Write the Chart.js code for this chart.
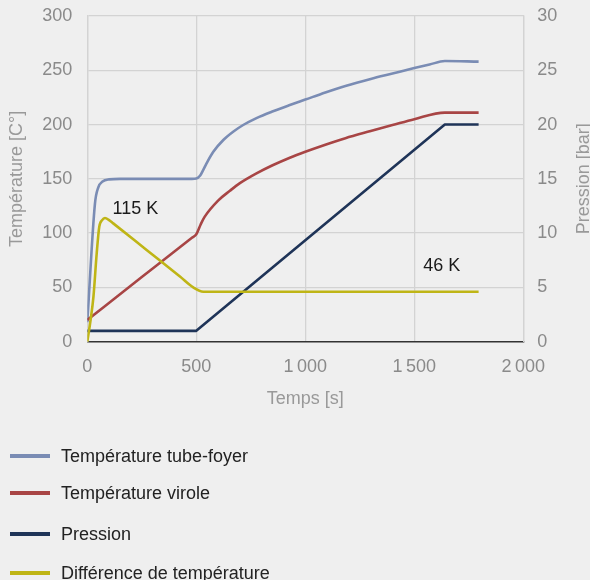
<!DOCTYPE html>
<html>
<head>
<meta charset="utf-8">
<script src="https://cdn.jsdelivr.net/npm/chart.js@4/dist/chart.umd.min.js"></script>
<style>
  html, body { margin:0; padding:0; background:#efefef; width:590px; height:580px; overflow:hidden; }
  #wrap { position:absolute; left:0; top:0; width:590px; height:420px; }
  #legend { position:absolute; left:0; top:0; width:590px; height:580px; pointer-events:none; }
  .item { position:absolute; left:0; height:24px; font:18px "Liberation Sans", Arial, sans-serif; color:#222; }
  .item .ln { position:absolute; left:10px; top:10px; width:40px; height:4px; }
  .item .tx { position:absolute; left:61px; top:0; line-height:24px; white-space:nowrap; }
</style>
</head>
<body>
<div id="wrap"><canvas id="c"></canvas></div>
<div id="legend"></div>
<script>
// ---- data ----
const seriesNames = ["Température tube-foyer", "Température virole", "Pression", "Différence de température"];
const seriesColors = ["#7a8cb4", "#a84545", "#1f3458", "#bfb516"];

const tubeTime = [0, 35, 50, 70, 100, 150, 300, 480, 500, 517, 532, 547, 578, 624, 669, 715, 776, 852, 929, 1000, 1092, 1184, 1300, 1400, 1500, 1570, 1640, 1795];
const tubeTemp = [18, 127, 142, 147.5, 149.5, 150, 150, 150, 150.3, 152.8, 158.3, 164.3, 175, 185.8, 193.4, 199.6, 206, 212.3, 218, 223, 229.5, 235.5, 242, 247, 252, 255.3, 258.5, 258];

const viroleTime = [0, 250, 480, 500, 520, 538, 600, 654, 700, 776, 850, 929, 1000, 1092, 1184, 1300, 1400, 1500, 1640, 1795];
const viroleTemp = [20, 59.5, 95.8, 99, 108, 115, 130, 139, 146, 155, 162.5, 169.5, 175, 181.5, 187.5, 194, 199.5, 205, 211, 211];

const pressTime = [0, 500, 1640, 1795];
const pressBar = [1, 1, 20, 20];

const diffTime = [0, 15, 28, 43, 55, 68, 81, 100, 119, 272, 425, 486, 532, 600, 1795];
const diffTemp = [0, 20, 41, 81, 106, 112, 114, 112, 109, 84.5, 60, 50, 46, 46, 46];

const xTicks = ["0", "500", "1\u2009000", "1\u2009500", "2\u2009000"];
const annotations = [
  { text: "115 K", x: 116, y: 122.5 },
  { text: "46 K", x: 1541, y: 70 }
];

const FONT = '"Liberation Sans", Arial, sans-serif';
Chart.defaults.font.family = FONT;
Chart.defaults.font.size = 18;

function pts(xs, ys) { return xs.map((x, i) => ({ x: x, y: ys[i] })); }

const datasets = [
  { label: seriesNames[0], data: pts(tubeTime, tubeTemp), yAxisID: 'y', cubicInterpolationMode: 'monotone' },
  { label: seriesNames[1], data: pts(viroleTime, viroleTemp), yAxisID: 'y', cubicInterpolationMode: 'monotone' },
  { label: seriesNames[2], data: pts(pressTime, pressBar), yAxisID: 'y1', tension: 0 },
  { label: seriesNames[3], data: pts(diffTime, diffTemp), yAxisID: 'y', cubicInterpolationMode: 'monotone' }
].map((d, i) => Object.assign(d, {
  borderColor: seriesColors[i], backgroundColor: seriesColors[i],
  borderWidth: 2.6, pointRadius: 0, fill: false,
  borderJoinStyle: 'round', order: [3, 2, 1, 0][i]
}));

const extras = {
  id: 'extras',
  afterDatasetsDraw(chart) {
    const ctx = chart.ctx, xs = chart.scales.x, ys = chart.scales.y;
    ctx.save();
    ctx.fillStyle = '#1a1a1a';
    ctx.font = '18px ' + FONT;
    ctx.textBaseline = 'middle';
    ctx.textAlign = 'left';
    annotations.forEach(a => ctx.fillText(a.text, xs.getPixelForValue(a.x), ys.getPixelForValue(a.y)));
    // right axis title, reading bottom-to-top
    ctx.fillStyle = '#999';
    ctx.translate(584, (chart.chartArea.top + chart.chartArea.bottom) / 2);
    ctx.rotate(-Math.PI / 2);
    ctx.textAlign = 'center';
    ctx.fillText('Pression [bar]', 0, 0);
    ctx.restore();
  }
};

new Chart(document.getElementById('c'), {
  type: 'line',
  data: { datasets: datasets },
  options: {
    responsive: true, maintainAspectRatio: false, animation: false,
    layout: { padding: { top: 16, left: 0, right: 0, bottom: 0 } },
    plugins: { legend: { display: false }, tooltip: { enabled: false } },
    scales: {
      x: {
        type: 'linear', min: 0, max: 2000,
        afterFit(s) { s.height = 78.3; s.paddingLeft = 0; s.paddingRight = 0; },
        ticks: { stepSize: 500, color: '#8a8a8a', padding: 15,
          callback(v) { return xTicks[Math.round(v / 500)]; } },
        grid: { color: '#d3d3d3', lineWidth: 1.3, drawTicks: false },
        border: { display: true, color: '#333', width: 1.5 },
        title: { display: true, text: 'Temps [s]', color: '#999', padding: { top: 0, bottom: 10 } }
      },
      y: {
        position: 'left', min: 0, max: 300,
        afterFit(s) { s.width = 87.3; s.paddingTop = 0; s.paddingBottom = 0; },
        ticks: { stepSize: 50, color: '#8a8a8a', padding: 15 },
        grid: { color: c => c.tick && c.tick.value === 0 ? 'rgba(0,0,0,0)' : '#d3d3d3', lineWidth: 1.3, drawTicks: false },
        border: { display: true, color: '#d3d3d3', width: 1.3 },
        title: { display: true, text: 'Température [C°]', color: '#999', padding: { top: 6, bottom: 0 } }
      },
      y1: {
        position: 'right', min: 0, max: 30,
        afterFit(s) { s.width = 66.7; s.paddingTop = 0; s.paddingBottom = 0; },
        ticks: { stepSize: 5, color: '#8a8a8a', padding: 14 },
        grid: { display: false, drawTicks: false },
        border: { display: true, color: '#d3d3d3', width: 1.3 },
        title: { display: false }
      }
    }
  },
  plugins: [extras]
});

// ---- HTML legend built from the series arrays ----
const legendTops = [444, 481, 522, 561];
const lg = document.getElementById('legend');
seriesNames.forEach((n, i) => {
  const it = document.createElement('div');
  it.className = 'item';
  it.style.top = legendTops[i] + 'px';
  it.innerHTML = '<div class="ln" style="background:' + seriesColors[i] + '"></div><div class="tx"></div>';
  it.querySelector('.tx').textContent = n;
  lg.appendChild(it);
});
</script>
</body>
</html>
